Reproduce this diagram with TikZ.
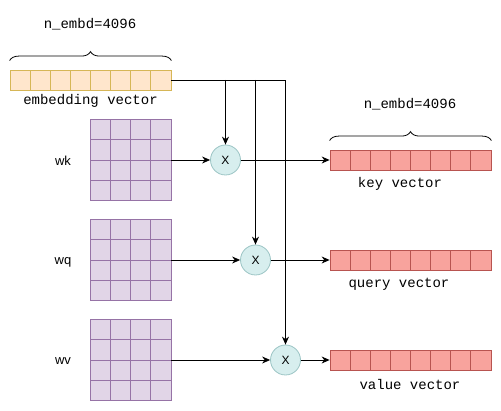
\documentclass[tikz,border=0pt]{standalone}
\usepackage{fontspec}
\setmainfont{Liberation Sans}
\setsansfont{Liberation Sans}
\setmonofont{Liberation Mono}
\usetikzlibrary{positioning,arrows.meta,decorations.pathreplacing}
\definecolor{embfill}{HTML}{FFE6CC}
\definecolor{embline}{HTML}{D6B656}
\definecolor{wfill}{HTML}{E1D5E7}
\definecolor{wline}{HTML}{9673A6}
\definecolor{outfill}{HTML}{F8A39D}
\definecolor{outline}{HTML}{B85450}
\definecolor{mulfill}{HTML}{D7EEEE}
\definecolor{mulline}{HTML}{9BC4C4}

\begin{document}
\begin{tikzpicture}[x=1pt, y=-1pt, font=\ttfamily\fontsize{14}{16}\selectfont,
  vec/.style={draw=#1, line width=0.8pt, minimum width=161pt, minimum height=20pt, inner sep=0pt,
    path picture={\foreach \k in {1,...,7}
      \draw[#1, line width=0.8pt] ([xshift=\k*20.125pt]path picture bounding box.south west) -- ([xshift=\k*20.125pt]path picture bounding box.north west);}},
  wmat/.style={draw=wline, fill=wfill, line width=0.8pt, minimum size=81pt, inner sep=0pt,
    path picture={\foreach \k in {1,2,3} {
      \draw[wline, line width=0.8pt] ([xshift=\k*20.25pt]path picture bounding box.south west) -- ([xshift=\k*20.25pt]path picture bounding box.north west);
      \draw[wline, line width=0.8pt] ([yshift=\k*20.25pt]path picture bounding box.south west) -- ([yshift=\k*20.25pt]path picture bounding box.south east);}}},
  mul/.style={circle, draw=mulline, fill=mulfill, line width=0.8pt, minimum size=30pt, inner sep=0pt, font=\sffamily\fontsize{12}{14}\selectfont},
  wname/.style={font=\sffamily\fontsize{13}{15}\selectfont},
  arr/.style={-{Stealth[length=8pt,width=7pt]}, line width=0.8pt},
  brc/.style={decorate, decoration={brace, amplitude=9pt}, line width=0.8pt}]
\useasboundingbox (0,0) rectangle (501,411);
% input embedding
\node[vec=embline, fill=embfill] (emb) at (90.5,80) {};
\node[below=0pt of emb] (embtxt) {embedding vector};
\node (embsize) at (90,24) {n\_embd=4096};
\draw[brc] ([yshift=9pt]emb.north west) -- ([yshift=9pt]emb.north east);
% weight matrices
\node[wmat] (wk) at (130.5,160) {}; \node[wname] (wklbl) at (63,161) {wk};
\node[wmat] (wq) at (130.5,260) {}; \node[wname] (wqlbl) at (63,262) {wq};
\node[wmat] (wv) at (130.5,360) {}; \node[wname] (wvlbl) at (63,361) {wv};
% products
\node[mul] (kx) at (225.5,160) {X};
\node[mul] (qx) at (255.5,260) {X};
\node[mul] (vx) at (285.5,360) {X};
% outputs
\node[vec=outline, fill=outfill] (kvec) at (410.5,160) {};
\node[vec=outline, fill=outfill] (qvec) at (410.5,260) {};
\node[vec=outline, fill=outfill] (vvec) at (410.5,360) {};
\node (ksize) at (410,104) {n\_embd=4096};
\draw[brc] ([yshift=9pt]kvec.north west) -- ([yshift=9pt]kvec.north east);
\node (kvtxt) at (400,184) {key vector};
\node (qvtxt) at (399,284) {query vector};
\node (vvtxt) at (410,384) {value vector};
% connectors
\draw[arr] (emb.east) -| (vx);
\draw[arr] (emb.east -| kx) -- (kx);
\draw[arr] (emb.east -| qx) -- (qx);
\draw[arr] (wk) -- (kx); \draw[arr] (kx) -- (kvec);
\draw[arr] (wq) -- (qx); \draw[arr] (qx) -- (qvec);
\draw[arr] (wv) -- (vx); \draw[arr] (vx) -- (vvec);
\end{tikzpicture}
\end{document}
